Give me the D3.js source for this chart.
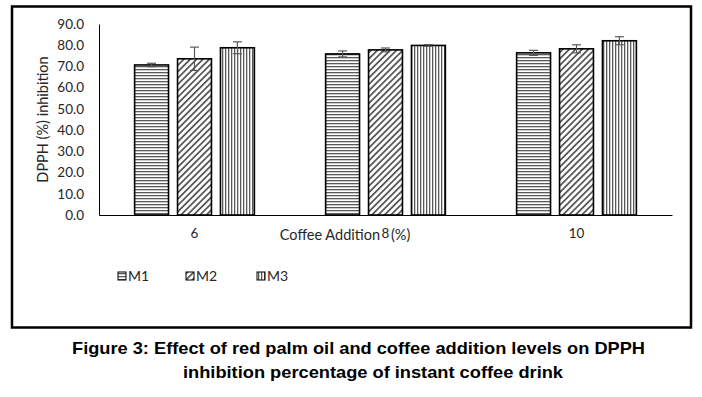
<!DOCTYPE html>
<html><head><meta charset="utf-8">
<script src="https://cdn.jsdelivr.net/npm/d3@7"></script>
<style>body{margin:0;background:#fff}svg{display:block}</style>
</head><body>
<script>
const categories = ["6", "8", "10"];
const seriesNames = ["M1", "M2", "M3"];
const M1 = [70.7, 75.9, 76.4];
const M2 = [73.6, 77.8, 78.3];
const M3 = [78.8, 79.9, 82.1];
const M1err = [0.8, 1.4, 1.2];
const M2err = [5.5, 0.9, 1.9];
const M3err = [2.8, 0.4, 1.9];
const yTicks = [0, 10, 20, 30, 40, 50, 60, 70, 80, 90];
const yTitle = "DPPH (%) inhibition";
const xTitleA = "Coffee Addition";
const xTitleB = "(%)";
const caption1 = "Figure 3: Effect of red palm oil and coffee addition levels on DPPH";
const caption2 = "inhibition percentage of instant coffee drink";

const values = [M1, M2, M3];
const errs = [M1err, M2err, M3err];

const W = 702, H = 397;
const FONT = "Lato, 'Open Sans', 'Liberation Sans', sans-serif";
const svg = d3.select("body").append("svg").attr("width", W).attr("height", H);

// patterns
const defs = svg.append("defs");
const pc = "#5a5a5a";
const p1 = defs.append("pattern").attr("id", "pat0").attr("patternUnits", "userSpaceOnUse").attr("width", 4).attr("height", 3);
p1.append("rect").attr("width", 4).attr("height", 3).attr("fill", "#fff");
p1.append("rect").attr("y", 0).attr("width", 4).attr("height", 1.3).attr("fill", pc);
const p2 = defs.append("pattern").attr("id", "pat1").attr("patternUnits", "userSpaceOnUse").attr("width", 4.5).attr("height", 4.5).attr("patternTransform", "rotate(45)");
p2.append("rect").attr("width", 4.5).attr("height", 4.5).attr("fill", "#fff");
p2.append("rect").attr("x", 0).attr("width", 1.8).attr("height", 4.5).attr("fill", pc);
const p3 = defs.append("pattern").attr("id", "pat2").attr("patternUnits", "userSpaceOnUse").attr("width", 3).attr("height", 4);
p3.append("rect").attr("width", 3).attr("height", 4).attr("fill", "#fff");
p3.append("rect").attr("x", 0).attr("width", 1.3).attr("height", 4).attr("fill", pc);

// border
svg.append("rect").attr("x", 12).attr("y", 6.5).attr("width", 679).attr("height", 321)
  .attr("fill", "none").attr("stroke", "#000").attr("stroke-width", 2.5);

const plot = {left: 99, right: 672, top: 24, bottom: 215};
const x0 = d3.scaleBand().domain(categories).range([plot.left, plot.right]).paddingInner(0).paddingOuter(0);
const x1 = d3.scaleBand().domain(seriesNames).range([0, x0.bandwidth()]).paddingInner(0.21).paddingOuter(0.83);
const y = d3.scaleLinear().domain([0, 90]).range([plot.bottom, plot.top]);

// y tick labels
const yAxis = d3.axisLeft(y).tickValues(yTicks).tickFormat(d3.format(".1f")).tickSize(0).tickPadding(15);
const ya = svg.append("g").attr("transform", `translate(${plot.left},0)`).call(yAxis);
ya.select(".domain").attr("stroke", "#000").attr("stroke-width", 1);
ya.selectAll("text").attr("font-family", FONT).attr("font-size", 13.5).attr("fill", "#262626");

// bars
const g = svg.append("g");
categories.forEach((c, ci) => {
  seriesNames.forEach((s, si) => {
    const v = values[si][ci];
    const bx = x0(c) + x1(s);
    g.append("rect").attr("x", bx).attr("y", y(v)).attr("width", x1.bandwidth()).attr("height", y(0) - y(v))
      .attr("fill", `url(#pat${si})`).attr("stroke", "#000").attr("stroke-width", 1.6);
  });
});
// error bars
categories.forEach((c, ci) => {
  seriesNames.forEach((s, si) => {
    const v = values[si][ci], e = errs[si][ci];
    const cx = x0(c) + x1(s) + x1.bandwidth() / 2;
    const eg = g.append("g").attr("stroke", "#595959").attr("stroke-width", 1.2);
    eg.append("line").attr("x1", cx).attr("x2", cx).attr("y1", y(v + e)).attr("y2", y(v - e));
    eg.append("line").attr("x1", cx - 4.5).attr("x2", cx + 4.5).attr("y1", y(v + e)).attr("y2", y(v + e));
    eg.append("line").attr("x1", cx - 4.5).attr("x2", cx + 4.5).attr("y1", y(v - e)).attr("y2", y(v - e));
  });
});

// x axis
const xAxis = d3.axisBottom(x0).tickSize(0).tickPadding(13);
const xa = svg.append("g").attr("transform", `translate(0,${plot.bottom})`).call(xAxis);
xa.select(".domain").attr("stroke", "#000").attr("stroke-width", 1.2);
xa.selectAll("text").attr("font-family", FONT).attr("font-size", 13.5).attr("fill", "#262626");

// axis titles
svg.append("text").attr("x", 380).attr("y", 240).attr("text-anchor", "end")
  .attr("font-family", FONT).attr("font-size", 14.5).attr("fill", "#262626").text(xTitleA);
svg.append("text").attr("x", 391).attr("y", 240).attr("text-anchor", "start")
  .attr("font-family", FONT).attr("font-size", 14.5).attr("fill", "#262626").text(xTitleB);
svg.append("text").attr("transform", `translate(48,${(plot.top + plot.bottom) / 2}) rotate(-90)`).attr("text-anchor", "middle")
  .attr("font-family", FONT).attr("font-size", 14.5).attr("fill", "#262626").text(yTitle);

// legend
const legX = [118, 186, 257];
seriesNames.forEach((s, i) => {
  svg.append("rect").attr("x", legX[i]).attr("y", 272).attr("width", 8).attr("height", 8)
    .attr("fill", `url(#pat${i})`).attr("stroke", "#000").attr("stroke-width", 1);
  svg.append("text").attr("x", legX[i] + 10).attr("y", 281)
    .attr("font-family", FONT).attr("font-size", 14).attr("fill", "#262626").text(s);
});

// caption
svg.append("text").attr("x", 72).attr("y", 354).attr("textLength", 573).attr("lengthAdjust", "spacingAndGlyphs")
  .attr("font-family", "Liberation Sans, Arial, sans-serif").attr("font-weight", "bold").attr("font-size", 17).attr("fill", "#000").text(caption1);
svg.append("text").attr("x", 183).attr("y", 378).attr("textLength", 380).attr("lengthAdjust", "spacingAndGlyphs")
  .attr("font-family", "Liberation Sans, Arial, sans-serif").attr("font-weight", "bold").attr("font-size", 17).attr("fill", "#000").text(caption2);
</script>
</body></html>
